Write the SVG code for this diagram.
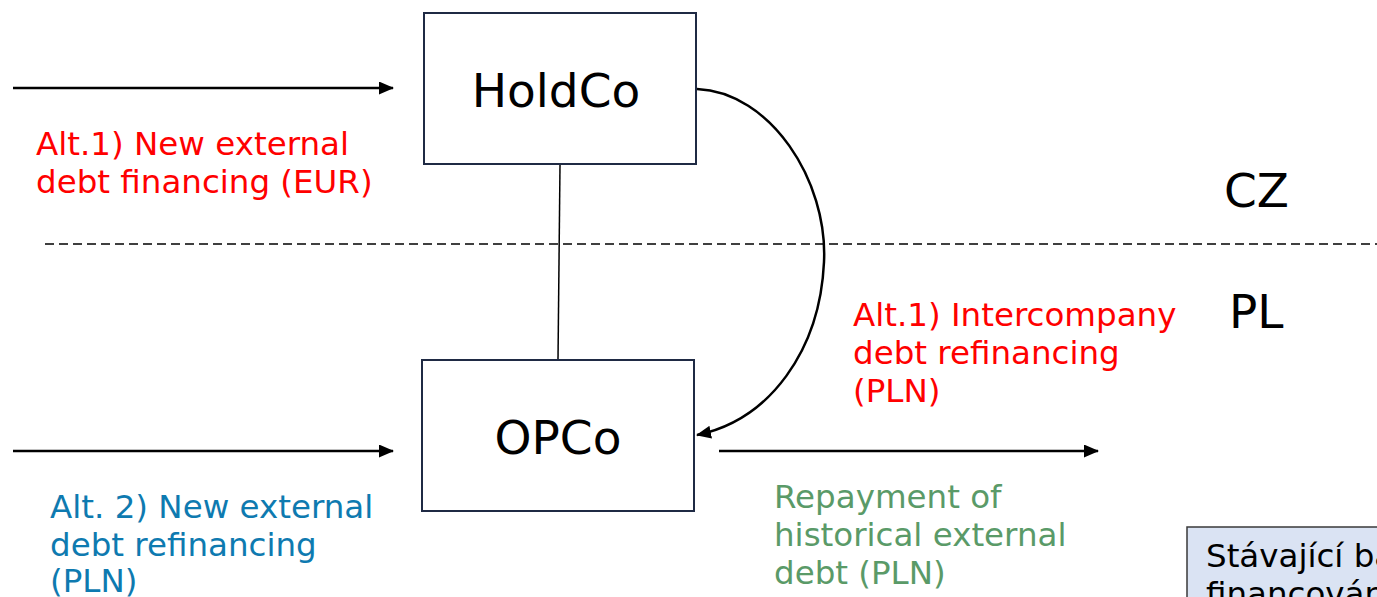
<svg xmlns="http://www.w3.org/2000/svg" width="1377" height="597" viewBox="0 0 1377 597">
  <defs>
    <marker id="ah" viewBox="0 0 15 13" refX="14" refY="6.5" markerWidth="15" markerHeight="13" markerUnits="userSpaceOnUse" orient="auto">
      <path d="M0,0 L15,6.5 L0,13 Z" fill="#000"/>
    </marker>
    <style>
      text { font-family: "DejaVu Sans", Verdana, sans-serif; }
      .box { fill: #fff; stroke: #1f2a44; stroke-width: 2; }
      .big { font-size: 47px; fill: #000; }
      .lbl { font-size: 32.5px; }
      .red { fill: #ff0000; }
      .blue { fill: #0e7ab0; }
      .green { fill: #5a9a68; }
      .conn { stroke: #000; stroke-width: 2.5; fill: none; }
    </style>
  </defs>
  <rect width="1377" height="597" fill="#fff"/>

  <g id="divider">
    <line x1="45" y1="244" x2="1377" y2="244" stroke="#000" stroke-width="1.5" stroke-dasharray="9,5"/>
    <text class="big" x="1224" y="207">CZ</text>
    <text class="big" x="1229" y="328">PL</text>
  </g>

  <g id="connectors">
    <line x1="560" y1="165" x2="558" y2="360" stroke="#000" stroke-width="1.5"/>
    <line class="conn" x1="13" y1="88" x2="393" y2="88" marker-end="url(#ah)"/>
    <line class="conn" x1="13" y1="451" x2="393" y2="451" marker-end="url(#ah)"/>
    <line class="conn" x1="719" y1="451" x2="1098" y2="451" marker-end="url(#ah)"/>
    <path class="conn" d="M697,89 C770,92 828,180 824,262 C820,350 770,420 697,435" marker-end="url(#ah)"/>
  </g>

  <g id="holdco">
    <rect class="box" x="424" y="13" width="272" height="151"/>
    <text class="big" x="556" y="107" text-anchor="middle">HoldCo</text>
  </g>

  <g id="opco">
    <rect class="box" x="422" y="360" width="272" height="151"/>
    <text class="big" x="558" y="454" text-anchor="middle">OPCo</text>
  </g>

  <g id="label-alt1-ext">
    <text class="lbl red" x="36" y="155">Alt.1) New external</text>
    <text class="lbl red" x="36" y="193">debt financing (EUR)</text>
  </g>

  <g id="label-alt1-ic">
    <text class="lbl red" x="853" y="326">Alt.1) Intercompany</text>
    <text class="lbl red" x="853" y="364">debt refinancing</text>
    <text class="lbl red" x="853" y="402">(PLN)</text>
  </g>

  <g id="label-alt2">
    <text class="lbl blue" x="50" y="518">Alt. 2) New external</text>
    <text class="lbl blue" x="50" y="556">debt refinancing</text>
    <text class="lbl blue" x="50" y="592">(PLN)</text>
  </g>

  <g id="label-repay">
    <text class="lbl green" x="774" y="508">Repayment of</text>
    <text class="lbl green" x="774" y="546">historical external</text>
    <text class="lbl green" x="774" y="584">debt (PLN)</text>
  </g>

  <g id="note">
    <rect x="1187" y="527" width="200" height="100" fill="#dae3f3" stroke="#3a3a3a" stroke-width="1.5"/>
    <text class="lbl" x="1206" y="567" fill="#000">Stávající ba</text>
    <text class="lbl" x="1206" y="605" fill="#000">financován</text>
  </g>
</svg>
